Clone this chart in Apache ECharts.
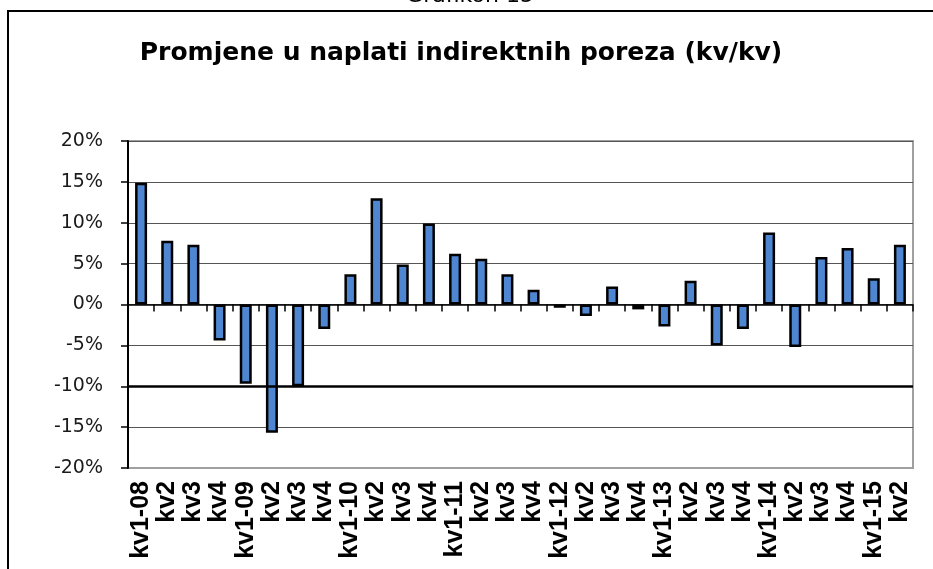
<!DOCTYPE html>
<html>
<head>
<meta charset="utf-8">
<script src="https://cdn.jsdelivr.net/npm/echarts@6/dist/echarts.min.js"></script>
<style>
  html, body { margin: 0; padding: 0; background: #fff; }
  #chart { width: 933px; height: 569px; }
</style>
</head>
<body>
<div id="chart"></div>
<script>
  // kvartali
  let quarters = ['kv1-08', 'kv2', 'kv3', 'kv4', 'kv1-09', 'kv2', 'kv3', 'kv4',
    'kv1-10', 'kv2', 'kv3', 'kv4', 'kv1-11', 'kv2', 'kv3', 'kv4',
    'kv1-12', 'kv2', 'kv3', 'kv4', 'kv1-13', 'kv2', 'kv3', 'kv4',
    'kv1-14', 'kv2', 'kv3', 'kv4', 'kv1-15', 'kv2']
  // promjena kv/kv u %
  let changes = [14.9, 7.8, 7.3, -4.4, -9.7, -15.7, -10.0, -3.0,
    3.7, 13.0, 4.9, 9.9, 6.2, 5.6, 3.7, 1.8,
    -0.4, -1.4, 2.2, -0.6, -2.7, 2.9, -5.0, -3.0,
    8.8, -5.2, 5.8, 6.9, 3.2, 7.3]
  let yTicks = { min: -20, max: 20, step: 5 }

  let myChart = echarts.init(document.getElementById('chart'))
  let option = {
    animation: false,
    title: [{
      text: 'Grafikon 15',
      left: 465,
      top: -20,
      textAlign: 'center',
      textStyle: { fontFamily: 'DejaVu Sans', fontWeight: 'normal', fontSize: 22, color: '#000' }
    }, {
      text: 'Promjene u naplati indirektnih poreza (kv/kv)',
      left: 456,
      top: 36,
      textAlign: 'center',
      textStyle: { fontFamily: 'DejaVu Sans', fontWeight: 'bold', fontSize: 25, color: '#000' }
    }],
    graphic: [{
      type: 'rect',
      z: -1,
      shape: { x: 8, y: 11, width: 1000, height: 1000 },
      style: { fill: 'none', stroke: '#000', lineWidth: 2 }
    }],
    grid: {
      left: 128,
      right: 20,
      top: 141,
      bottom: 101,
      show: true,
      borderColor: '#a0a0a0',
      borderWidth: 2
    },
    xAxis: [{
      type: 'category',
      data: quarters,
      position: 'bottom',
      axisLine: { show: false, onZero: false },
      axisTick: { show: false },
      axisLabel: {
        rotate: 90,
        margin: 13,
        interval: 0,
        fontFamily: 'Liberation Sans',
        fontWeight: 'bold',
        fontSize: 25,
        color: '#000'
      }
    }, {
      type: 'category',
      data: quarters,
      position: 'bottom',
      axisLine: { show: true, onZero: true, lineStyle: { color: '#000', width: 1.5 } },
      axisTick: { show: true, interval: 0, inside: false, length: 7, lineStyle: { color: '#000', width: 1.5 } },
      axisLabel: { show: false }
    }],
    yAxis: [{
      type: 'value',
      min: yTicks.min,
      max: yTicks.max,
      interval: yTicks.step,
      axisLine: { show: true, lineStyle: { color: '#000', width: 2 } },
      axisTick: { show: true, inside: false, length: 7, lineStyle: { color: '#000', width: 1.5 } },
      axisLabel: {
        formatter: '{value}%',
        margin: 25,
        fontFamily: 'DejaVu Sans',
        fontSize: 19,
        color: '#1a1a1a'
      },
      splitLine: {
        show: true,
        lineStyle: { color: ['#a0a0a0', '#555', '#000', '#555', '#555', '#555', '#555', '#555', '#555'], width: 1.2 }
      }
    }],
    series: [{
      type: 'bar',
      xAxisIndex: 0,
      data: changes,
      barWidth: 12,
      itemStyle: { color: '#4f86d1', borderColor: '#000', borderWidth: 2.5 },
      markLine: {
        silent: true,
        symbol: 'none',
        label: { show: false },
        lineStyle: { color: '#000', width: 2.5, type: 'solid' },
        data: [{ yAxis: -10 }]
      }
    }]
  }
  myChart.setOption(option)
</script>
</body>
</html>
